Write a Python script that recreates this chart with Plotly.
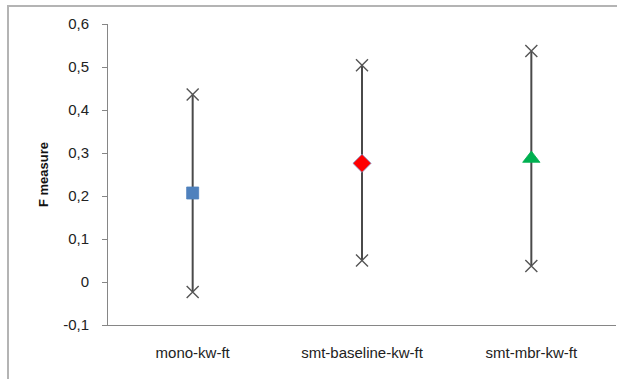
import plotly.graph_objects as go

categories = ["mono-kw-ft", "smt-baseline-kw-ft", "smt-mbr-kw-ft"]
high_vals = [0.436, 0.504, 0.537]
low_vals = [-0.023, 0.050, 0.037]
mean_vals = [0.207, 0.276, 0.287]
mean_symbols = ["square", "diamond", "triangle-up"]
mean_colors = ["#4f81bd", "#ff0000", "#00b050"]
mean_sizes = [12, 14, 15]
y_tick_vals = [-0.1, 0, 0.1, 0.2, 0.3, 0.4, 0.5, 0.6]
y_tick_text = ["-0,1", "0", "0,1", "0,2", "0,3", "0,4", "0,5", "0,6"]

fig = go.Figure()

# range lines
for c, lo, hi in zip(categories, low_vals, high_vals):
    fig.add_trace(go.Scatter(
        x=[c, c], y=[lo, hi], mode="lines",
        line=dict(color="#4a4a4a", width=2), showlegend=False, hoverinfo="skip"))

# high / low markers
fig.add_trace(go.Scatter(
    x=categories + categories, y=high_vals + low_vals, mode="markers",
    marker=dict(symbol="x-thin-open", size=12, color="#555555",
                line=dict(width=1.4, color="#555555")),
    showlegend=False))

# mean markers
for c, m, s, col, sz in zip(categories, mean_vals, mean_symbols, mean_colors, mean_sizes):
    fig.add_trace(go.Scatter(
        x=[c], y=[m], mode="markers",
        marker=dict(symbol=s, size=sz, color=col,
                    line=dict(width=0.8, color="#7f9fd0" if col == "#ff0000" else col)),
        showlegend=False))

L, R, T, B = 108, 10, 24, 54
W, H = 626, 379
pw = W - L - R
ph = H - T - B

FONT = "Liberation Sans, Arial, sans-serif"

fig.update_layout(
    width=W, height=H,
    margin=dict(l=L, r=R, t=T, b=B),
    paper_bgcolor="white", plot_bgcolor="white",
    font=dict(family=FONT, size=15, color="#222222"),
    xaxis=dict(
        type="category", range=[-0.5, 2.5], showgrid=False, zeroline=False,
        showline=True, linecolor="#868686", linewidth=1, ticks="",
        tickfont=dict(family=FONT, size=15, color="#222222"), ticklabelstandoff=14,
    ),
    yaxis=dict(
        range=[-0.1, 0.6], tickvals=y_tick_vals, ticktext=y_tick_text,
        showgrid=False, zeroline=False, showline=True, linecolor="#868686", linewidth=1,
        ticks="outside", ticklen=5, tickcolor="#868686",
        tickfont=dict(family=FONT, size=15, color="#222222"), ticklabelstandoff=10,
        title=dict(text="<b>F measure</b>", font=dict(family=FONT, size=13, color="#111111"),
                   standoff=11),
    ),
    shapes=[
        dict(type="line", xref="paper", yref="paper", layer="above",
             x0=(8 - L) / pw, x1=(8 - L) / pw, y0=(T + ph - (H + 5)) / ph, y1=(T + ph - 6) / ph,
             line=dict(color="#b4b4b4", width=2)),
        dict(type="line", xref="paper", yref="paper", layer="above",
             x0=(7 - L) / pw, x1=(617 - L) / pw, y0=(T + ph - 6) / ph, y1=(T + ph - 6) / ph,
             line=dict(color="#b4b4b4", width=2)),
    ],
)

fig.write_html("out.html", config={"displayModeBar": False},
               post_script="document.body.style.margin='0';")
